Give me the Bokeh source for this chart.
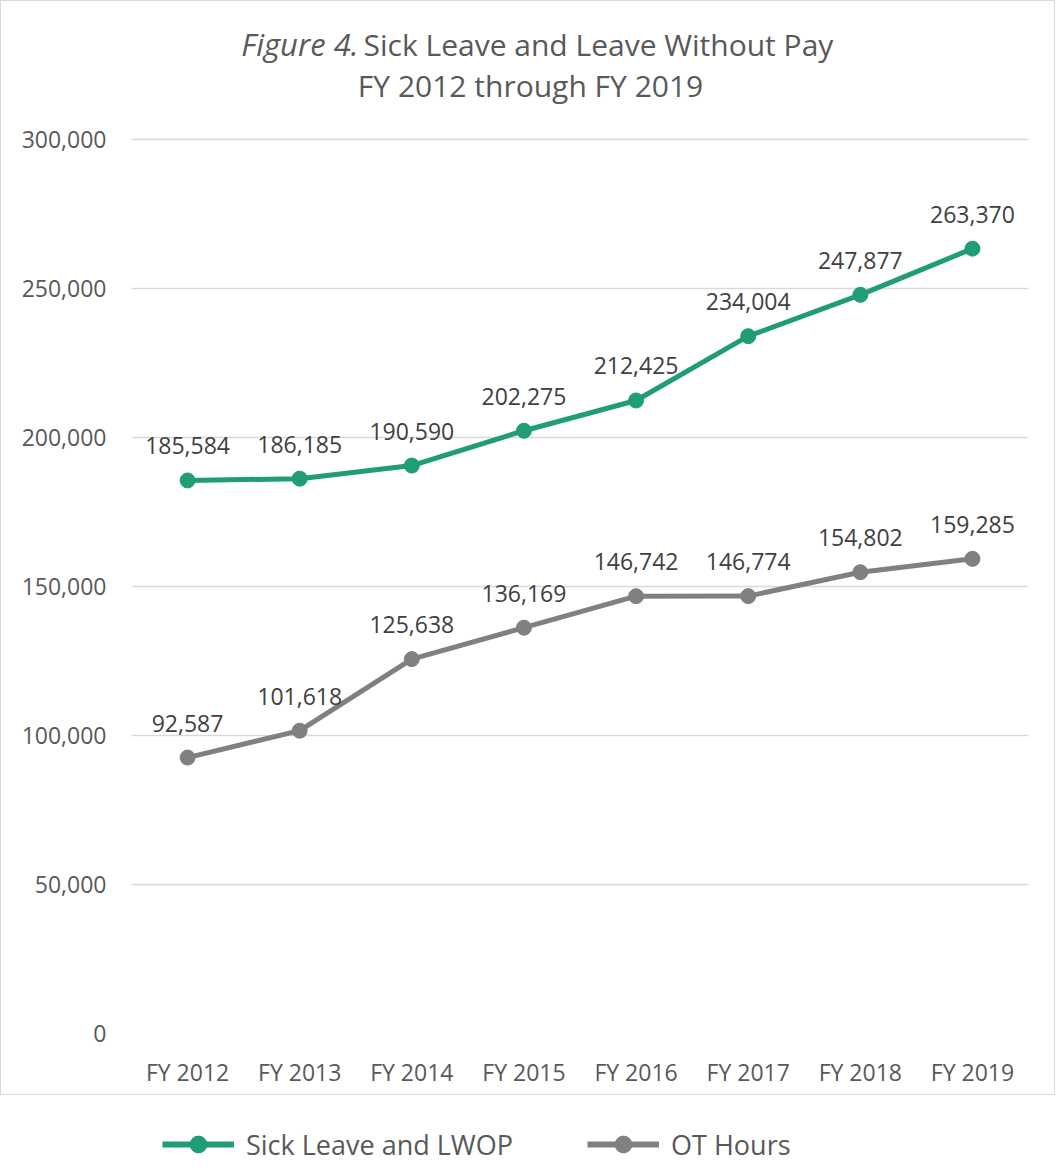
from bokeh.plotting import figure
from bokeh.models import (ColumnDataSource, FactorRange, Range1d, FixedTicker,
                          NumeralTickFormatter, LabelSet, Label, Legend, LegendItem)
from bokeh.core.properties import value
from bokeh.layouts import column
from bokeh.embed import file_html
from bokeh.resources import INLINE

# ---- data ----
years = ["FY 2012", "FY 2013", "FY 2014", "FY 2015", "FY 2016", "FY 2017", "FY 2018", "FY 2019"]
sick_leave_lwop = [185584, 186185, 190590, 202275, 212425, 234004, 247877, 263370]
ot_hours = [92587, 101618, 125638, 136169, 146742, 146774, 154802, 159285]
y_ticks = [0, 50000, 100000, 150000, 200000, 250000, 300000]
series_names = ["Sick Leave and LWOP", "OT Hours"]

GREEN = "#209C77"
GRAY = "#808080"
FONT = "Open Sans"

W = 1055
H1 = 1095
H2 = 70

src = ColumnDataSource(dict(
    x=years,
    sick=sick_leave_lwop,
    ot=ot_hours,
    sick_lbl=[f"{v:,}" for v in sick_leave_lwop],
    ot_lbl=[f"{v:,}" for v in ot_hours],
))

# frame extends above the 300,000 gridline to host the two-line title
p = figure(width=W, height=H1, x_range=FactorRange(factors=years),
           y_range=Range1d(0, 342953), output_backend="svg", toolbar_location=None,
           min_border_left=130, min_border_right=28, min_border_top=10, min_border_bottom=63)
p.outline_line_color = None
p.background_fill_color = "white"
p.border_fill_color = "white"
p.styles = {"border": "1.5px solid #d9d9d9"}

p.xgrid.grid_line_color = None
p.ygrid.grid_line_color = "#d9d9d9"
p.ygrid.grid_line_width = 1.5

p.yaxis.ticker = FixedTicker(ticks=y_ticks)
p.yaxis.formatter = NumeralTickFormatter(format="0,0")
for ax in (p.xaxis[0], p.yaxis[0]):
    ax.axis_line_color = None
    ax.major_tick_line_color = None
    ax.minor_tick_line_color = None
    ax.major_tick_out = 0
    ax.major_tick_in = 0
    ax.major_label_text_font = FONT
    ax.major_label_text_font_size = "23px"
    ax.major_label_text_color = "#595959"
p.yaxis.major_label_standoff = 25
p.xaxis.major_label_standoff = 22

for col, color in (("sick", GREEN), ("ot", GRAY)):
    p.line("x", col, source=src, line_color=color, line_width=5)
    p.scatter("x", col, source=src, size=15, fill_color=color, line_color=color)
    p.add_layout(LabelSet(x="x", y=col, text=col + "_lbl", source=src,
                          text_align="center", text_baseline="alphabetic", y_offset=26,
                          text_font=value(FONT), text_font_size=value("23px"),
                          text_color="#404040"))

# ---- title (two lines, italic lead-in) ----
p.add_layout(Label(x=2.007, y=331900, text="Figure 4.", text_align="right",
                   text_baseline="middle", x_offset=2, text_font=FONT,
                   text_font_style="italic", text_font_size="31px", text_color="#595959"))
p.add_layout(Label(x=2.007, y=331900, text="Sick Leave and Leave Without Pay",
                   text_align="left", text_baseline="middle", x_offset=7, text_font=FONT,
                   text_font_size="30px", text_color="#595959"))
p.add_layout(Label(x=3.559, y=318100, text="FY 2012 through FY 2019",
                   text_align="center", text_baseline="middle", text_font=FONT,
                   text_font_size="30px", text_color="#595959"))

# ---- legend below the box ----
pl = figure(width=W, height=H2, x_range=Range1d(0, 1), y_range=Range1d(0, 1),
            output_backend="svg", toolbar_location=None,
            x_axis_location=None, y_axis_location=None, min_border=0)
pl.outline_line_color = None
pl.grid.visible = False
items = []
for name, color in zip(series_names, (GREEN, GRAY)):
    lr = pl.line([-5, -4], [-5, -4], line_color=color, line_width=6)
    sr = pl.scatter([-5], [-5], size=22, fill_color=color, line_color=color)
    items.append(LegendItem(label=name, renderers=[lr, sr]))
legend = Legend(items=items, orientation="horizontal", location=(32, 0),
                glyph_width=72, glyph_height=42, label_height=24, label_standoff=12,
                spacing=74, padding=0, margin=0, border_line_color=None,
                background_fill_alpha=0, label_text_font=FONT,
                label_text_font_size="27px", label_text_color="#595959")
pl.add_layout(legend)

layout = column(p, pl, spacing=0)
open("out.html", "w").write(file_html(layout, INLINE))
